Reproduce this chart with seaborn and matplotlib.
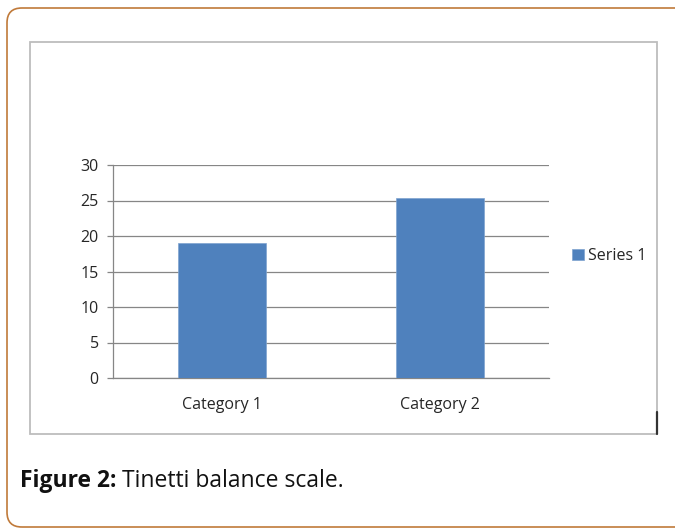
import pandas as pd
import matplotlib.pyplot as plt
import matplotlib.patches as mpatches
import matplotlib.lines as mlines
import seaborn as sns

categories = ['Category 1', 'Category 2']
values = [19.0, 25.3]
series_name = 'Series 1'
y_ticks = [0, 5, 10, 15, 20, 25, 30]

df = pd.DataFrame({'category': categories, 'value': values, 'series': series_name})

sns.set_style('white')
plt.rcParams['font.family'] = ['Open Sans', 'DejaVu Sans']

W, H = 675, 532
fig = plt.figure(figsize=(W / 100, H / 100), dpi=100)

# outer rounded frame and inner chart frame
outer = mpatches.FancyBboxPatch((7 / W, 5 / H), 690 / W, 519 / H,
                                boxstyle='round,pad=0,rounding_size=0.022',
                                mutation_aspect=W / H,
                                transform=fig.transFigure, fill=False,
                                edgecolor='#C07A3A', linewidth=1.2)
fig.patches.append(outer)
inner = mpatches.Rectangle((30 / W, 1 - 434 / H), 627 / W, 392 / H,
                           transform=fig.transFigure, fill=False,
                           edgecolor='#BDBDBD', linewidth=1.3)
fig.patches.append(inner)
fig.lines.append(mlines.Line2D([657 / W, 657 / W], [1 - 434 / H, 1 - 412 / H],
                               transform=fig.transFigure, color='#333333', linewidth=1.6))

ax = fig.add_axes([113 / W, 1 - 378 / H, 436 / W, 213 / H])
sns.barplot(data=df, x='category', y='value', hue='series', palette=['#4F81BD'],
            saturation=1, width=0.4, ax=ax, edgecolor='#7FA3D0', linewidth=0.5, zorder=3)

ax.set_ylim(0, 30)
ax.set_xlim(-0.5, 1.5)
ax.set_yticks(y_ticks)
ax.set_xlabel('')
ax.set_ylabel('')
ax.yaxis.grid(True, color='#868686', linewidth=0.9)
ax.set_axisbelow(True)
for s in ['top', 'right']:
    ax.spines[s].set_visible(False)
for s in ['left', 'bottom']:
    ax.spines[s].set_color('#868686')
    ax.spines[s].set_linewidth(0.9)

ax.set_xticks([-0.5, 0.5, 1.5], minor=True)
ax.tick_params(axis='x', which='major', length=0, pad=14, labelsize=11.5, labelcolor='#262626')
ax.tick_params(axis='x', which='minor', length=4, width=0.9, color='#868686', direction='out')
ax.tick_params(axis='y', length=4.3, width=0.9, color='#868686', direction='out',
               pad=6, labelsize=11.5, labelcolor='#262626', left=True)

ax.legend(loc='center left', bbox_to_anchor=(566 / W, 1 - 256 / H),
          bbox_transform=fig.transFigure, frameon=False, fontsize=11.5,
          handlelength=0.7, handleheight=0.7, handletextpad=0.3,
          borderaxespad=0, labelcolor='#262626')

# caption: bold label followed by regular text
t1 = fig.text(20 / W, 1 - 487 / H, 'Figure 2:', fontsize=16.5, fontweight='bold',
              va='baseline', ha='left', color='#111111')
ax.annotate(' Tinetti balance scale.', xy=(1, 0), xycoords=t1, fontsize=16.5,
            va='bottom', ha='left', color='#111111', annotation_clip=False)

plt.savefig('out.png', dpi=100)
